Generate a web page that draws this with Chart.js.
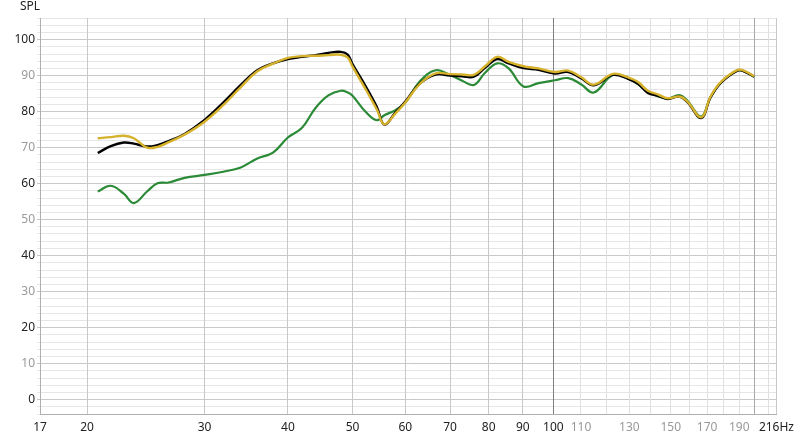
<!DOCTYPE html>
<html>
<head>
<meta charset="utf-8">
<script src="https://cdn.jsdelivr.net/npm/chart.js@4/dist/chart.umd.min.js"></script>
<style>
  html, body { margin: 0; padding: 0; background: #fff; }
  #wrap { width: 800px; height: 439px; }
</style>
</head>
<body>
<div id="wrap"><canvas id="splChart" width="800" height="439"></canvas></div>
<script>
// frequency points (Hz)
const freqs = [20.75, 21.7, 22.7, 23.5, 24.6, 25.5, 26.5, 28, 30, 32, 34, 36, 38, 40, 42, 44, 46, 48, 49.2, 50,
  52.4, 54.4, 55.8, 58, 60, 63, 66.6, 70, 73, 76, 79, 82.4, 85.7, 90.2, 95, 100.5, 105.3, 110, 115, 122.8,
  129.4, 134, 138.6, 143.4, 148.4, 154.5, 158.9, 166.6, 172.1, 178.5, 188.8, 193, 200];

const black = [68.5, 70.4, 71.4, 71.1, 70.3, 70.7, 71.8, 73.8, 77.7, 82.5, 87.4, 91.5, 93.4, 94.6, 95.2, 95.7, 96.3, 96.6, 95.8, 93.2,
  86.8, 81.2, 76.4, 79.8, 82.8, 87.7, 90.3, 90.0, 89.8, 89.7, 92.2, 94.6, 93.4, 92.1, 91.6, 90.6, 91.0, 89.3, 87.3, 90.2,
  89.1, 87.7, 85.2, 84.4, 83.5, 84.2, 82.6, 78.2, 84.0, 88.1, 91.4, 91.2, 89.7];

const yellow = [72.6, 72.9, 73.3, 72.6, 70.0, 70.2, 71.5, 73.6, 77.2, 81.8, 86.8, 91.2, 93.3, 94.9, 95.4, 95.5, 95.7, 95.8, 95.0, 92.5,
  86.0, 80.5, 76.5, 79.5, 82.5, 87.6, 90.6, 90.4, 90.3, 90.2, 92.6, 95.2, 93.8, 92.6, 92.0, 91.0, 91.4, 89.6, 87.5, 90.5,
  89.5, 88.2, 85.8, 84.8, 83.7, 84.2, 82.8, 78.4, 84.2, 88.3, 91.6, 91.4, 89.8];

const green = [57.8, 59.4, 57.2, 54.6, 57.8, 60.1, 60.3, 61.6, 62.4, 63.3, 64.5, 67.0, 68.6, 72.8, 75.5, 81.0, 84.5, 85.8, 85.3, 84.4,
  79.8, 77.6, 79.0, 80.4, 82.5, 88.3, 91.5, 90.2, 88.6, 87.4, 90.8, 93.4, 92.0, 87.0, 87.9, 88.7, 89.3, 87.6, 85.3, 90.2,
  89.2, 87.6, 85.5, 84.3, 83.6, 84.6, 83.0, 78.6, 84.0, 88.1, 91.4, 91.2, 89.7];

// axis ticks
const xTicks = [17, 20, 30, 40, 50, 60, 70, 80, 90, 100, 110, 120, 130, 140, 150, 160, 170, 180, 190, 200, 210, 216];
const xTickLabels = ['17', '20', '30', '40', '50', '60', '70', '80', '90', '100', '110', '', '130', '', '150', '', '170', '', '190', '', '', '216Hz'];
const yTickLabels = ['0', '10', '20', '30', '40', '50', '60', '70', '80', '90', '100'];

const FONT = "'Noto Sans', 'Open Sans', sans-serif";

function toPoints(vals) {
  return freqs.map((f, i) => ({ x: f, y: vals[i] }));
}

const titlePlugin = {
  id: 'splTitle',
  afterDraw(chart) {
    const ctx = chart.ctx;
    ctx.save();
    ctx.font = '12px ' + FONT;
    ctx.fillStyle = '#222';
    ctx.textBaseline = 'top';
    ctx.fillText('SPL', 20, 1);
    ctx.restore();
  }
};

const ctx = document.getElementById('splChart').getContext('2d');

new Chart(ctx, {
  type: 'line',
  data: {
    datasets: [
      { label: 'Yellow', data: toPoints(yellow), borderColor: '#d6b12c', borderWidth: 2.4 },
      { label: 'Black', data: toPoints(black), borderColor: '#000000', borderWidth: 2.4 },
      { label: 'Green', data: toPoints(green), borderColor: '#2b8a36', borderWidth: 2.2 },
    ],
  },
  options: {
    responsive: false,
    animation: false,
    devicePixelRatio: 1,
    layout: { padding: { top: 18, right: 19, left: 0, bottom: 0 } },
    elements: {
      point: { radius: 0 },
      line: { tension: 0.4, fill: false },
    },
    scales: {
      x: {
        type: 'logarithmic',
        min: 17,
        max: 216,
        afterBuildTicks: (scale) => {
          scale.ticks = xTicks.map(v => ({ value: v }));
        },
        afterFit: (scale) => { scale.height = 25; },
        border: { color: '#b0b0b0', width: 1 },
        grid: {
          z: -1,
          drawTicks: false,
          color: (c) => {
            const v = c.tick ? c.tick.value : 0;
            if (v === 100) return '#808080';
            if (v === 200) return '#a8a8a8';
            if (v > 100 && v < 216) return '#e0e0e0';
            return '#c8c8c8';
          },
        },
        ticks: {
          autoSkip: false,
          maxRotation: 0,
          padding: 6,
          font: { family: FONT, size: 12 },
          color: (c) => {
            const v = c.tick ? c.tick.value : 0;
            return (v > 100 && v < 216) ? '#999999' : '#222222';
          },
          callback: (value, index) => xTickLabels[index],
        },
      },
      y: {
        min: -4,
        max: 106,
        afterBuildTicks: (scale) => {
          const t = [];
          for (let v = -4; v <= 106; v += 2) t.push({ value: v });
          scale.ticks = t;
        },
        afterFit: (scale) => { scale.width = 40; },
        border: { color: '#b0b0b0', width: 1 },
        grid: {
          z: -2,
          tickLength: 3,
          color: (c) => {
            const v = c.tick ? c.tick.value : 0;
            return v % 10 === 0 ? '#c8c8c8' : '#e6e6e6';
          },
        },
        ticks: {
          autoSkip: false,
          padding: 2,
          font: { family: FONT, size: 12 },
          color: (c) => {
            const v = c.tick ? c.tick.value : 0;
            return v % 20 === 0 ? '#222222' : '#999999';
          },
          callback: (value) => (value >= 0 && value % 10 === 0) ? yTickLabels[value / 10] : '',
        },
      },
    },
    plugins: {
      legend: { display: false },
      tooltip: { enabled: false },
    },
  },
  plugins: [titlePlugin],
});
</script>
</body>
</html>
